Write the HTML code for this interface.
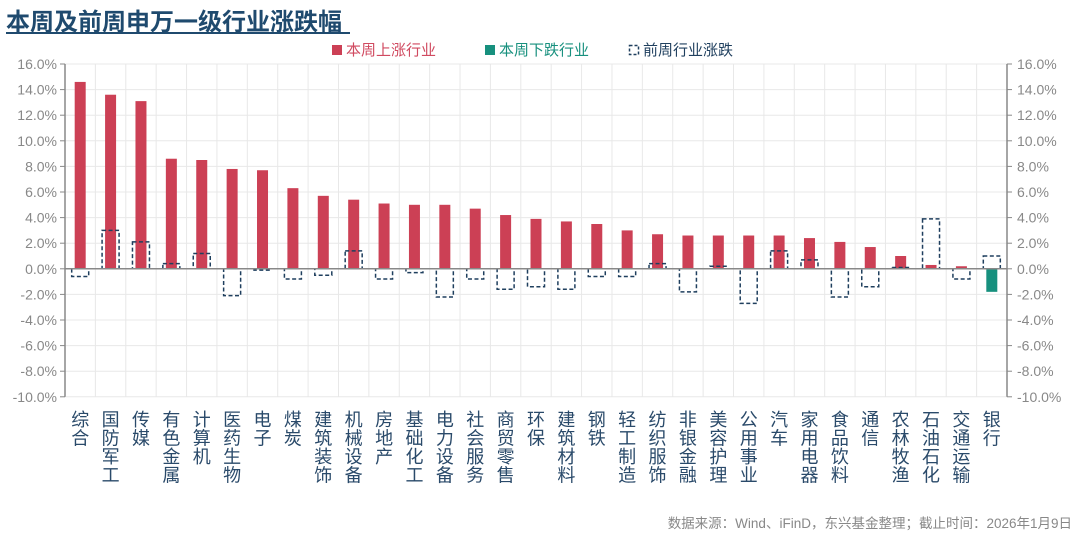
<!DOCTYPE html>
<html><head><meta charset="utf-8"><style>
body{margin:0;background:#fff;}
svg{display:block;font-family:"Liberation Sans","Noto Sans CJK SC",sans-serif;}
</style></head><body>
<svg id="c" width="1080" height="541" xmlns="http://www.w3.org/2000/svg">
<text x="6" y="30" font-size="24" font-weight="bold" fill="#1f4a6e" font-family="Liberation Sans,Noto Sans CJK SC,sans-serif">本周及前周申万一级行业涨跌幅</text>
<rect x="6" y="32" width="344" height="2" fill="#1f4a6e"/>
<rect x="332" y="45" width="10" height="10" fill="#cc4055"/>
<text x="346" y="55" font-size="15" fill="#d04a60">本周上涨行业</text>
<rect x="485" y="45" width="10" height="10" fill="#17907e"/>
<text x="499" y="55" font-size="15" fill="#17907e">本周下跌行业</text>
<rect x="629.5" y="45.5" width="9" height="9" fill="none" stroke="#1f3f5e" stroke-width="1.5" stroke-dasharray="3,2"/>
<text x="643" y="55" font-size="15" fill="#1f3f5e">前周行业涨跌</text>
<g id="g"></g>
<text x="1072" y="528" font-size="13.5" fill="#888" text-anchor="end">数据来源：Wind、iFinD，东兴基金整理；截止时间：2026年1月9日</text>
</svg>
<script>
var cats=["综合","国防军工","传媒","有色金属","计算机","医药生物","电子","煤炭","建筑装饰","机械设备","房地产","基础化工","电力设备","社会服务","商贸零售","环保","建筑材料","钢铁","轻工制造","纺织服饰","非银金融","美容护理","公用事业","汽车","家用电器","食品饮料","通信","农林牧渔","石油石化","交通运输","银行"];
var cur=[14.6,13.6,13.1,8.6,8.5,7.8,7.7,6.3,5.7,5.4,5.1,5.0,5.0,4.7,4.2,3.9,3.7,3.5,3.0,2.7,2.6,2.6,2.6,2.6,2.4,2.1,1.7,1.0,0.3,0.2,-1.8];
var prev=[-0.6,3.0,2.1,0.4,1.2,-2.1,-0.1,-0.8,-0.5,1.4,-0.8,-0.3,-2.2,-0.8,-1.6,-1.4,-1.6,-0.6,-0.6,0.4,-1.8,0.2,-2.7,1.4,0.7,-2.2,-1.4,0.1,3.9,-0.8,1.0];
var L=65,R=1007,T=64,K=12.8,Z=T+16*K,B=T+26*K,W=(R-L)/31,s='';
for(var v=-10;v<=16;v+=2){var y=Z-v*K;s+='<line x1="'+L+'" x2="'+R+'" y1="'+y+'" y2="'+y+'" stroke="#e8e8e8"/>';
s+='<text x="57" y="'+(y+5)+'" font-size="14" fill="#888" text-anchor="end">'+v.toFixed(1)+'%</text>';
s+='<text x="1017" y="'+(y+5)+'" font-size="14" fill="#888">'+v.toFixed(1)+'%</text>';
s+='<line x1="'+(L-5)+'" x2="'+L+'" y1="'+y+'" y2="'+y+'" stroke="#888"/><line x1="'+R+'" x2="'+(R+5)+'" y1="'+y+'" y2="'+y+'" stroke="#888"/>';}
for(var i=1;i<31;i++){var x=L+i*W;s+='<line x1="'+x+'" x2="'+x+'" y1="'+T+'" y2="'+B+'" stroke="#e8e8e8"/>';}
for(var i=0;i<31;i++){var cx=L+(i+0.5)*W,c=cur[i],p=prev[i];
var y1=Math.min(Z,Z-c*K),h=Math.abs(c*K);
s+='<rect x="'+(cx-5.5)+'" y="'+y1+'" width="11" height="'+h+'" fill="'+(c>=0?'#cc4055':'#17907e')+'"/>';
var py=Math.min(Z,Z-p*K),ph=Math.abs(p*K);
s+='<rect x="'+(cx-8.5)+'" y="'+py+'" width="17" height="'+ph+'" fill="none" stroke="#1f3f5e" stroke-width="1.5" stroke-dasharray="4,2.5"/>';
var t=cats[i];for(var j=0;j<t.length;j++){s+='<text x="'+cx+'" y="'+(426+j*18.5)+'" font-size="18" fill="#2a4a6a" text-anchor="middle">'+t[j]+'</text>';}}
s+='<line x1="'+L+'" x2="'+R+'" y1="'+Z+'" y2="'+Z+'" stroke="#888" stroke-width="1.5"/>';
s+='<line x1="'+L+'" x2="'+L+'" y1="'+T+'" y2="'+B+'" stroke="#888" stroke-width="1.5"/>';
s+='<line x1="'+R+'" x2="'+R+'" y1="'+T+'" y2="'+B+'" stroke="#888" stroke-width="1.5"/>';
document.getElementById('g').innerHTML=s;
</script>
</body></html>
